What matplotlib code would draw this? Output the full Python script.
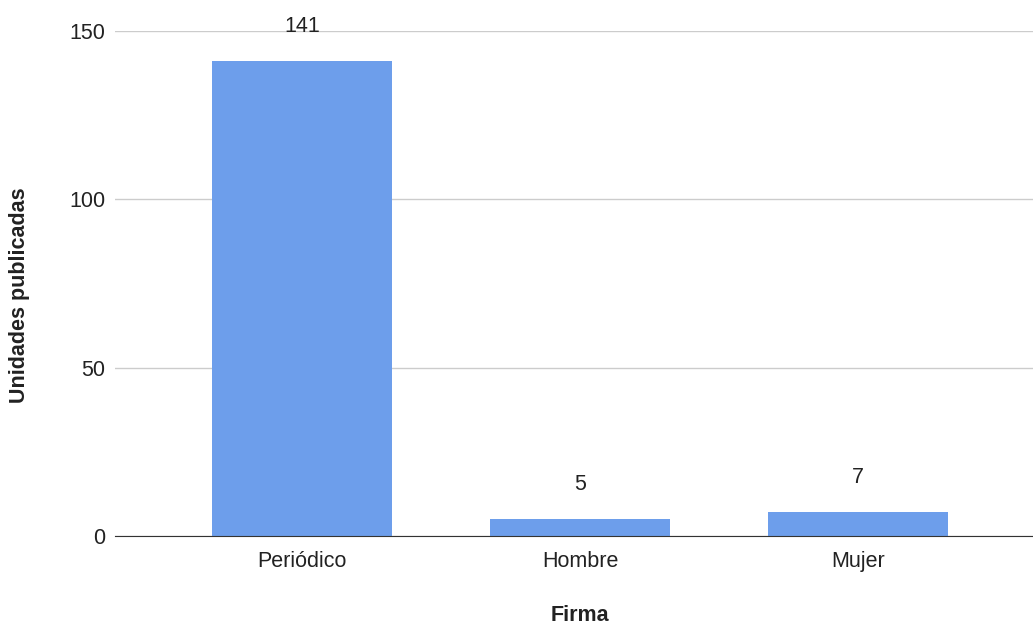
import matplotlib.pyplot as plt

plt.rcParams['font.family'] = ['Liberation Sans', 'DejaVu Sans']

# data
categories = ["Periódico", "Hombre", "Mujer"]
values = [141, 5, 7]
yticks = [0, 50, 100, 150]

fig = plt.figure(figsize=(10.33, 6.27), dpi=100)
ax = fig.add_axes([0.1113, 0.1451, 0.8887, 0.8055])

x = range(len(categories))
bars = ax.bar(x, values, width=0.647, color="#6d9eeb", zorder=3)

for xi, v in zip(x, values):
    ax.annotate(str(v), (xi, v), xytext=(0, 25), textcoords="offset points",
                ha="center", va="center", fontsize=15.5, color="#222222",
                annotation_clip=False)

ax.set_xlim(-0.673, 2.63)
ax.set_ylim(0, 150)
ax.set_yticks(yticks)
ax.set_xticks(list(x))
ax.set_xticklabels(categories)
ax.tick_params(axis="both", length=0, labelsize=15.5, labelcolor="#222222")
ax.tick_params(axis="y", pad=7)
ax.tick_params(axis="x", pad=11)
ax.grid(axis="y", color="#cccccc", linewidth=1, zorder=0)

for s in ["top", "right", "left"]:
    ax.spines[s].set_visible(False)
ax.spines["bottom"].set_color("#333333")
ax.spines["bottom"].set_zorder(4)

ax.set_xlabel("Firma", fontsize=15.5, fontweight="bold", color="#222222")
ax.set_ylabel("Unidades publicadas", fontsize=15.5, fontweight="bold", color="#222222")
ax.xaxis.set_label_coords(0.5065, -0.158)
ax.yaxis.set_label_coords(-0.1035, 0.477)
ax.xaxis.label.set_va("center")
ax.yaxis.label.set_va("center")

fig.savefig("out.png", dpi=100)
